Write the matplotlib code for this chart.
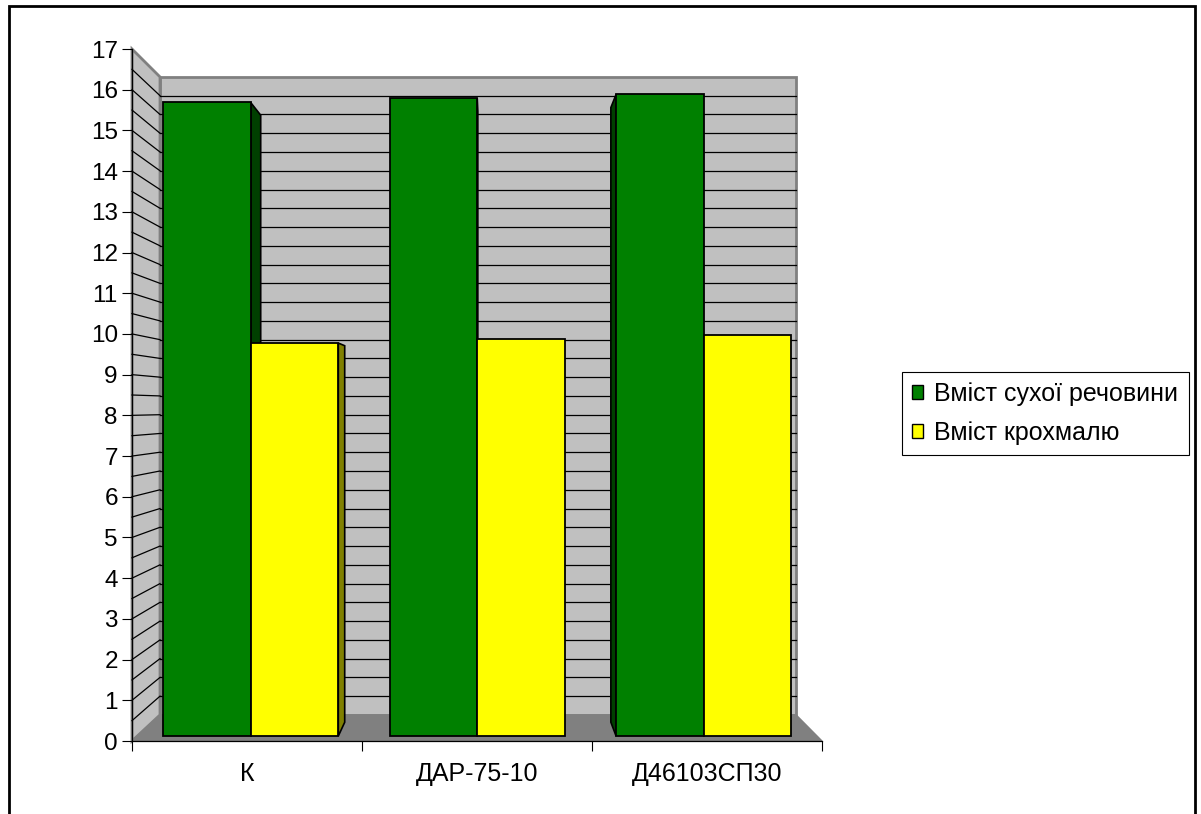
import matplotlib
matplotlib.use('Agg')
import matplotlib.pyplot as plt
import numpy as np
from matplotlib.patches import Polygon, Rectangle, Patch

# ---- data ----
categories = ['К', 'ДАР-75-10', 'Д46103СП30']
dry_matter = [15.8, 15.9, 16.0]
starch = [9.8, 9.9, 10.0]
series_names = ['Вміст сухої речовини', 'Вміст крохмалю']
y_ticks = list(range(0, 18))
grid_step = 0.5

plt.rcParams['font.family'] = ['Liberation Sans', 'DejaVu Sans']

W, H = 1201, 814
fig = plt.figure(figsize=(W / 100, H / 100), dpi=100)
ax = fig.add_axes([132 / W, (H - 741) / H, 690 / W, 692 / H])
ax.set_xlim(0, len(categories))
ax.set_ylim(0, 17)
ax.patch.set_visible(False)

# simple perspective toward a centre point (data units)
CX, CY = 1.561, 8.206
SHRINK = 0.078


def proj(x, v, t):
    s = 1 - SHRINK * t
    return (CX + (x - CX) * s, CY + (v - CY) * s)


n = len(categories)
vmax = 17
# walls
back = [proj(0, 0, 1), proj(n, 0, 1), proj(n, vmax, 1), proj(0, vmax, 1)]
ax.add_patch(Polygon(back, closed=True, fc='#C0C0C0', ec='#808080', lw=2,
                     zorder=1, clip_on=False))
side = [proj(0, 0, 0), proj(0, 0, 1), proj(0, vmax, 1), proj(0, vmax, 0)]
ax.add_patch(Polygon(side, closed=True, fc='#C0C0C0', ec='#808080', lw=2,
                     zorder=1, clip_on=False))
for v in np.arange(grid_step, vmax, grid_step):
    p0, p1 = proj(0, v, 1), proj(n, v, 1)
    ax.plot([p0[0], p1[0]], [p0[1], p1[1]], color='black', lw=0.9, zorder=1.5,
            clip_on=False)
    q0, q1 = proj(0, v, 0), proj(0, v, 1)
    ax.plot([q0[0], q1[0]], [q0[1], q1[1]], color='black', lw=0.9, zorder=1.5,
            clip_on=False)
floor = [proj(0, 0, 0), proj(n, 0, 0), proj(n, 0, 1), proj(0, 0, 1)]
ax.add_patch(Polygon(floor, closed=True, fc='#808080', ec='#808080', lw=1,
                     zorder=2, clip_on=False))

# bars
GAP = 0.113
TF, TB = 0.19, 0.72
series = [(dry_matter, '#008000', '#004000'), (starch, '#FFFF00', '#808000')]


def draw_bar(x0, x1, v, fc, sc):
    front = [proj(x0, 0, TF), proj(x1, 0, TF), proj(x1, v, TF), proj(x0, v, TF)]
    if x1 < CX:
        face = [proj(x1, 0, TF), proj(x1, 0, TB), proj(x1, v, TB), proj(x1, v, TF)]
        ax.add_patch(Polygon(face, closed=True, fc=sc, ec='black', lw=1.2,
                             zorder=3, clip_on=False))
    if x0 > CX:
        face = [proj(x0, 0, TF), proj(x0, 0, TB), proj(x0, v, TB), proj(x0, v, TF)]
        ax.add_patch(Polygon(face, closed=True, fc=sc, ec='black', lw=1.2,
                             zorder=3, clip_on=False))
    ax.add_patch(Polygon(front, closed=True, fc=fc, ec='black', lw=1.3,
                         zorder=4, clip_on=False))


bw = (1 - 2 * GAP) / len(series)
for i in range(n):
    for k, (vals, fc, sc) in enumerate(series):
        x0 = i + GAP + k * bw
        draw_bar(x0, x0 + bw, vals[i], fc, sc)

# axes
for s in ['top', 'right']:
    ax.spines[s].set_visible(False)
for s in ['left', 'bottom']:
    ax.spines[s].set_color('black')
    ax.spines[s].set_linewidth(0.9)
    ax.spines[s].set_zorder(5)
ax.set_yticks(y_ticks)
ax.set_yticklabels([str(t) for t in y_ticks])
ax.tick_params(axis='y', direction='out', length=7.2, width=0.8, labelsize=17.5,
               pad=3, color='black')
ax.set_xticks(range(n + 1))
ax.set_xticklabels([''] * (n + 1))
ax.tick_params(axis='x', which='major', direction='out', length=7.2, width=0.8)
ax.set_xticks([i + 0.5 for i in range(n)], minor=True)
ax.set_xticklabels(categories, minor=True)
ax.tick_params(axis='x', which='minor', length=0, pad=15, labelsize=18)

# legend
handles = [Patch(fc='#008000', ec='black'), Patch(fc='#FFFF00', ec='black')]
leg = fig.legend(handles, series_names, loc='upper left',
                 bbox_to_anchor=(902 / W, 1 - 372 / H), fontsize=18,
                 frameon=True, fancybox=False, edgecolor='black', framealpha=1,
                 handlelength=0.45, handleheight=0.45, handletextpad=0.45,
                 borderpad=0.4, labelspacing=0.6, borderaxespad=0)
leg.get_frame().set_linewidth(0.8)

# outer frame
fig.add_artist(Rectangle((9 / W, -0.02), (1195 - 9) / W, 1 - 6 / H + 0.02,
                         transform=fig.transFigure, fill=False, ec='black',
                         lw=2))

fig.savefig('out.png', dpi=100)
